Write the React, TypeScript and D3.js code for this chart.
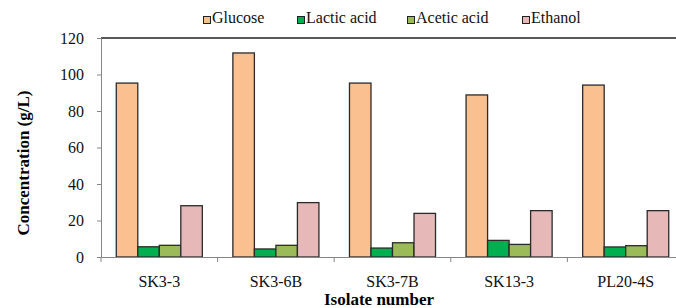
import React, { useEffect, useRef } from "react"
import * as d3 from "d3"

const isolates = ["SK3-3", "SK3-6B", "SK3-7B", "SK13-3", "PL20-4S"]
const seriesNames = ["Glucose", "Lactic acid", "Acetic acid", "Ethanol"]
const glucose = [95.3, 111.8, 95.3, 88.8, 94.2]
const lactic = [5.6, 4.4, 4.9, 9.1, 5.5]
const acetic = [6.4, 6.4, 7.8, 6.9, 6.2]
const ethanol = [28.1, 29.8, 23.9, 25.4, 25.4]
const yTicks = [0, 20, 40, 60, 80, 100, 120]
const colors = ["#FAC090", "#00B050", "#9BBB59", "#E6B9B8"]

const FONT = "Liberation Serif, DejaVu Serif, serif"

export default function App() {
  const svgRef = useRef<SVGSVGElement>(null)

  useEffect(() => {
    const svg = d3.select(svgRef.current)
    svg.selectAll("*").remove()
    const W = 676, H = 308
    const left = 101, right = 684, top = 38, bottom = 257
    const values = [glucose, lactic, acetic, ethanol]

    const x = d3.scaleBand<string>().domain(isolates).range([left, right])
    const y = d3.scaleLinear().domain([0, 120]).range([bottom, top])
    const inner = d3.scaleBand<string>().domain(seriesNames)
      .range([0, x.bandwidth()]).paddingOuter(0.71)

    // top border
    svg.append("line")
      .attr("x1", left).attr("x2", W).attr("y1", top).attr("y2", top)
      .attr("stroke", "#222").attr("stroke-width", 1.5)

    // bars
    seriesNames.forEach((s, si) => {
      svg.append("g").selectAll("rect")
        .data(isolates)
        .enter().append("rect")
        .attr("x", d => (x(d) as number) + (inner(s) as number))
        .attr("width", inner.bandwidth())
        .attr("y", (d, i) => y(values[si][i]))
        .attr("height", (d, i) => bottom - y(values[si][i]))
        .attr("fill", colors[si])
        .attr("stroke", "#2b2b2b")
        .attr("stroke-width", 1.3)
    })

    // y axis
    const yAxis = svg.append("g").attr("transform", `translate(${left},0)`)
      .call(d3.axisLeft(y).tickValues(yTicks).tickSize(4).tickPadding(13))
    yAxis.select(".domain").attr("stroke", "#868686")
    yAxis.selectAll(".tick line").attr("stroke", "#868686")
    yAxis.selectAll("text").style("font-family", FONT).style("font-size", "16px").attr("fill", "#111")

    // x axis
    const xAxis = svg.append("g").attr("transform", `translate(0,${bottom})`)
      .call(d3.axisBottom(x).tickSize(0).tickPadding(19))
    xAxis.select(".domain").attr("stroke", "#868686")
    xAxis.selectAll("text").style("font-family", FONT).style("font-size", "16px").attr("fill", "#111")
    svg.append("g").selectAll("line")
      .data(isolates)
      .enter().append("line")
      .attr("x1", d => x(d) as number).attr("x2", d => x(d) as number)
      .attr("y1", bottom).attr("y2", bottom + 5)
      .attr("stroke", "#868686")

    // titles
    svg.append("text")
      .attr("transform", "translate(29,163) rotate(-90)")
      .attr("text-anchor", "middle")
      .style("font-family", FONT).style("font-size", "17px").style("font-weight", "bold")
      .text("Concentration (g/L)")
    svg.append("text")
      .attr("x", 379).attr("y", 305)
      .attr("text-anchor", "middle")
      .style("font-family", FONT).style("font-size", "17px").style("font-weight", "bold")
      .text("Isolate number")

    // legend
    const legendX = [203, 297, 407, 522]
    const lg = svg.append("g").selectAll("g")
      .data(seriesNames)
      .enter().append("g")
      .attr("transform", (d, i) => `translate(${legendX[i]},23)`)
    lg.append("rect")
      .attr("x", 0.5).attr("y", -6.5).attr("width", 7).attr("height", 7)
      .attr("fill", (d, i) => colors[i]).attr("stroke", "#222").attr("stroke-width", 1)
    lg.append("text")
      .attr("x", 9).attr("y", 0)
      .style("font-family", FONT).style("font-size", "16px").attr("fill", "#111")
      .text(d => d)

    svg.attr("width", W).attr("height", H)
  }, [])

  return (
    <svg ref={svgRef} width={676} height={308}
      style={{ position: "absolute", left: 0, top: 0, background: "#fff" }} />
  )
}
